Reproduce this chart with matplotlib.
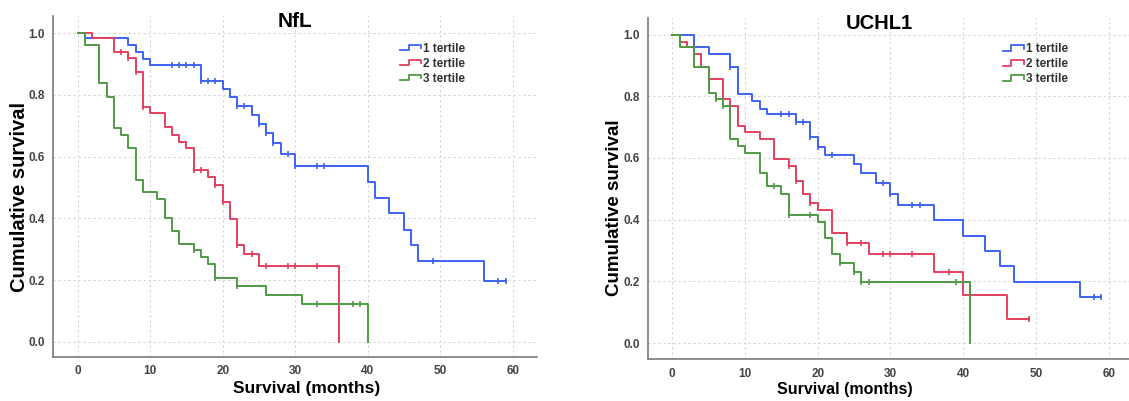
"""
km_tertiles.py
--------------
Kaplan-Meier style survival curves by biomarker tertile (NfL, UCHL1).
"""

import numpy as np
import matplotlib
matplotlib.use("Agg")
import matplotlib.pyplot as plt
from matplotlib.lines import Line2D
from matplotlib.legend_handler import HandlerBase

plt.rcParams["font.family"] = ["Liberation Sans", "DejaVu Sans"]

COLORS = {"1": "#3d63f5", "2": "#e3405f", "3": "#4f9a44"}
LABELS = ["1 tertile", "2 tertile", "3 tertile"]

# --- NfL: event times (months), survival after each event, censored times
nfl_t1 = [1, 7, 8, 9, 10, 17, 20, 21, 22, 24, 25, 26, 27, 28, 30, 40, 41, 43, 45, 46, 47, 56]
nfl_s1 = [0.983, 0.961, 0.940, 0.915, 0.896, 0.846, 0.819, 0.794, 0.764, 0.735, 0.706,
          0.675, 0.643, 0.607, 0.570, 0.517, 0.467, 0.416, 0.362, 0.312, 0.263, 0.198]
nfl_c1 = [13, 14, 15, 16, 17, 18, 19, 22, 23, 25, 26, 27, 29, 30, 33, 34, 49, 58, 59]

nfl_t2 = [2, 5, 7, 8, 9, 10, 12, 13, 14, 15, 16, 18, 19, 20, 21, 22, 23, 25, 36]
nfl_s2 = [0.983, 0.940, 0.918, 0.875, 0.762, 0.740, 0.695, 0.670, 0.648, 0.627, 0.557,
          0.535, 0.508, 0.454, 0.398, 0.314, 0.284, 0.247, 0.0]
nfl_c2 = [6, 7, 8, 9, 16, 17, 19, 20, 22, 24, 26, 29, 30, 33]

nfl_t3 = [1, 3, 4, 5, 6, 7, 8, 9, 11, 12, 13, 14, 16, 17, 18, 19, 22, 26, 31, 40]
nfl_s3 = [0.961, 0.837, 0.794, 0.691, 0.670, 0.627, 0.524, 0.484, 0.463, 0.400, 0.360,
          0.316, 0.298, 0.274, 0.251, 0.206, 0.181, 0.152, 0.123, 0.0]
nfl_c3 = [16, 19, 22, 33, 38, 39]

# --- UCHL1
uchl_t1 = [3, 5, 8, 9, 11, 12, 13, 17, 19, 20, 21, 25, 26, 28, 30, 31, 36, 40, 43, 45, 47, 56]
uchl_s1 = [0.958, 0.937, 0.894, 0.808, 0.785, 0.760, 0.741, 0.717, 0.667, 0.636, 0.610,
           0.580, 0.550, 0.518, 0.485, 0.448, 0.399, 0.348, 0.300, 0.250, 0.199, 0.151]
uchl_c1 = [8, 15, 16, 17, 18, 19, 20, 22, 29, 30, 33, 34, 58, 59]

uchl_t2 = [1, 2, 3, 4, 5, 7, 8, 9, 10, 12, 14, 16, 17, 18, 19, 20, 22, 24, 27, 36, 40, 46]
uchl_s2 = [0.977, 0.959, 0.938, 0.896, 0.855, 0.790, 0.768, 0.703, 0.685, 0.663, 0.597,
           0.574, 0.526, 0.485, 0.455, 0.431, 0.356, 0.326, 0.289, 0.232, 0.156, 0.079]
uchl_c2 = [16, 17, 19, 24, 26, 29, 30, 33, 38, 49]

uchl_t3 = [1, 3, 5, 6, 7, 8, 9, 10, 12, 13, 15, 16, 20, 21, 22, 23, 25, 26, 41]
uchl_s3 = [0.958, 0.895, 0.810, 0.790, 0.768, 0.660, 0.638, 0.617, 0.552, 0.509, 0.485,
           0.415, 0.392, 0.341, 0.288, 0.259, 0.232, 0.199, 0.0]
uchl_c3 = [6, 7, 14, 16, 19, 23, 25, 26, 27, 39]

x_ticks = [0, 10, 20, 30, 40, 50, 60]
y_ticks = [0.0, 0.2, 0.4, 0.6, 0.8, 1.0]


class StepHandler(HandlerBase):
    """Legend handle drawn as a small survival step."""

    def create_artists(self, legend, orig_handle, xdescent, ydescent,
                       width, height, fontsize, trans):
        x0 = -xdescent
        x1 = x0 + width
        mid = x0 + width * 0.42
        lo = -ydescent + height * 0.15
        hi = -ydescent + height * 0.85
        line = Line2D([x0, mid, mid, x1, x1], [lo, lo, hi, hi, lo + (hi - lo) * 0.35],
                      color=orig_handle.get_color(), lw=1.3, transform=trans)
        return [line]


def draw_curve(ax, times, surv, censored, color, label):
    end = max(times[-1], max(censored))
    x = [0] + list(times) + [end]
    y = [1.0] + list(surv) + [surv[-1]]
    ax.step(x, y, where="post", color=color, lw=1.4, label=label)
    # censor marks sit on the curve at the censoring time
    idx = np.searchsorted(times, censored, side="right")
    cy = np.concatenate([[1.0], surv])[idx]
    ax.plot(censored, cy, ls="none", marker="|", ms=5, mew=1.2, color=color)


def style_axes(ax, xlim, ylim, title, title_size, title_x, xlab, ylab):
    ax.set_xlim(*xlim)
    ax.set_ylim(*ylim)
    ax.set_xticks(x_ticks)
    ax.set_yticks(y_ticks)
    ax.set_yticklabels([f"{v:.1f}" for v in y_ticks])
    ax.tick_params(length=0, labelsize=8.5, labelcolor="#444444", pad=6)
    for lab in ax.get_xticklabels() + ax.get_yticklabels():
        lab.set_fontweight("bold")
    ax.grid(True, ls=(0, (2, 2.5)), color="#d4d4d4", lw=0.8)
    ax.set_axisbelow(True)
    for side in ["top", "right"]:
        ax.spines[side].set_visible(False)
    for side in ["left", "bottom"]:
        ax.spines[side].set_color("#7a7a7a")
        ax.spines[side].set_linewidth(1.2)
    # (size, x, y) for each axis label, placed in axes fractions
    ax.set_xlabel("Survival (months)", fontsize=xlab[0], fontweight="bold")
    ax.xaxis.set_label_coords(xlab[1], xlab[2])
    ax.set_ylabel("Cumulative survival", fontsize=ylab[0], fontweight="bold")
    ax.yaxis.set_label_coords(ylab[1], ylab[2])
    ax.text(title_x, 0.985, title, transform=ax.transAxes, ha="center", va="center",
            fontsize=title_size, fontweight="bold")


fig = plt.figure(figsize=(11.29, 4.01), dpi=100)
ax_l = fig.add_axes([0.047, 0.110, 0.429, 0.850])
ax_r = fig.add_axes([0.574, 0.104, 0.426, 0.850])

panels = [
    (ax_l, [(nfl_t1, nfl_s1, nfl_c1), (nfl_t2, nfl_s2, nfl_c2), (nfl_t3, nfl_s3, nfl_c3)]),
    (ax_r, [(uchl_t1, uchl_s1, uchl_c1), (uchl_t2, uchl_s2, uchl_c2), (uchl_t3, uchl_s3, uchl_c3)]),
]

for ax, curves in panels:
    for (t, s, c), key, label in zip(curves, ["1", "2", "3"], LABELS):
        draw_curve(ax, t, s, c, COLORS[key], label)

style_axes(ax_l, (-3.4, 63.4), (-0.049, 1.055), "NfL", 15, 0.5,
           (12.5, 0.523, -0.072), (14.5, -0.05, 0.468))
style_axes(ax_r, (-3.33, 62.8), (-0.052, 1.052), "UCHL1", 14.5, 0.48,
           (11.5, 0.41, -0.066), (13.5, -0.052, 0.445))

for ax, anchor in [(ax_l, (0.716, 0.922)), (ax_r, (0.737, 0.928))]:
    handles = [Line2D([], [], color=COLORS[k]) for k in ["1", "2", "3"]]
    leg = ax.legend(handles, LABELS, loc="upper left", bbox_to_anchor=anchor,
                    frameon=False, handler_map={Line2D: StepHandler()},
                    prop={"weight": "bold", "size": 8.5}, handlelength=1.8,
                    handletextpad=0.2, labelspacing=0.25, borderpad=0, borderaxespad=0)
    for txt in leg.get_texts():
        txt.set_color("#333333")

fig.savefig("out.png", dpi=100)
